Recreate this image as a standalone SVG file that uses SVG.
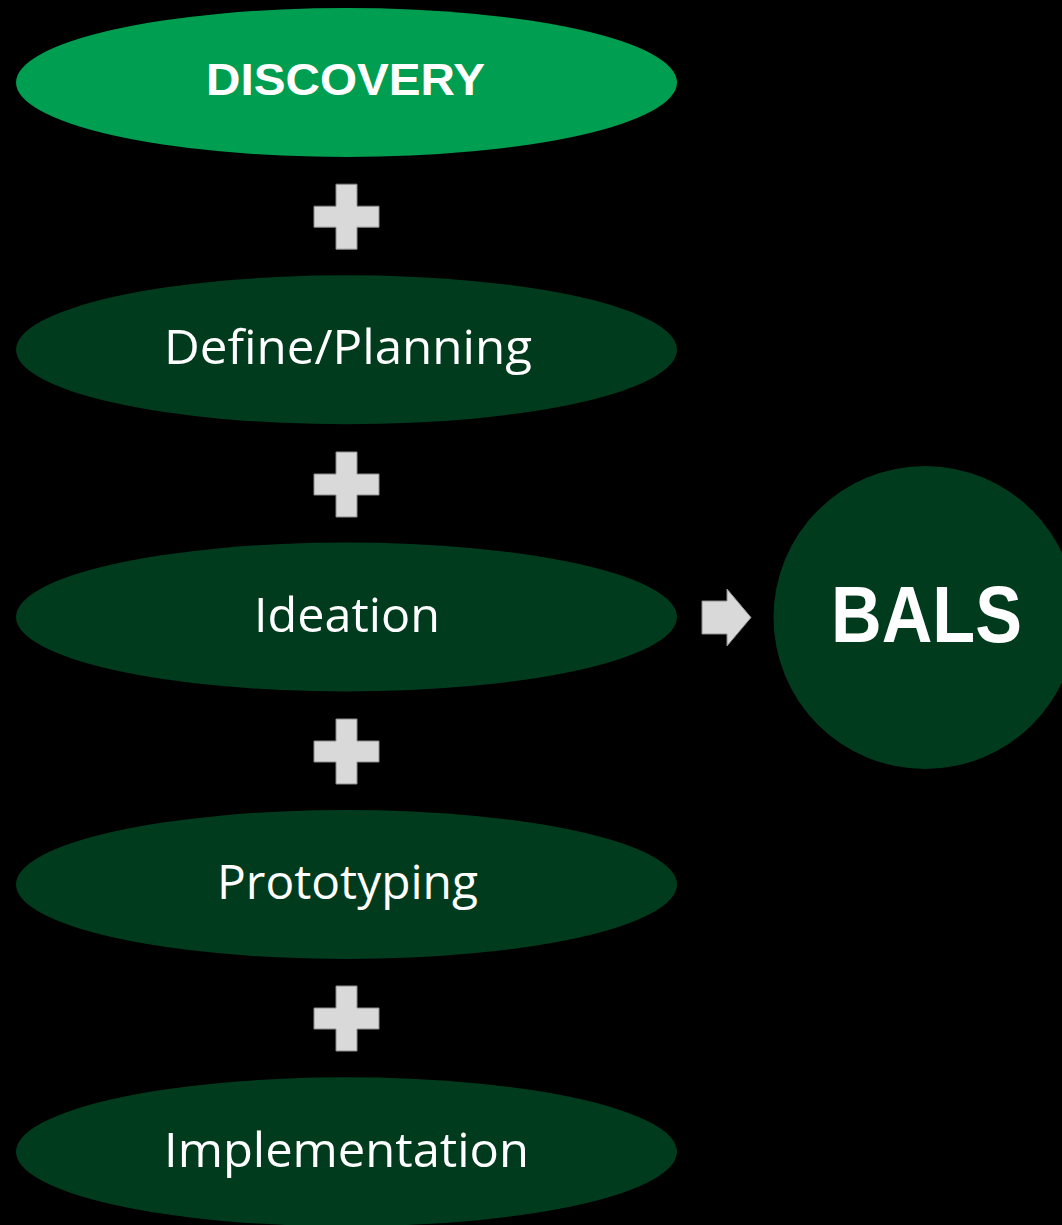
<svg xmlns="http://www.w3.org/2000/svg" width="1062" height="1225" viewBox="0 0 1062 1225">
<style>
.dark{fill:#003B1D}
.lbl{font-family:"Open Sans","Liberation Sans",sans-serif;font-size:48px;fill:#FFFFFF;text-anchor:middle}
.bold{font-family:"Liberation Sans",Arial,sans-serif;font-weight:bold;fill:#FFFFFF;text-anchor:middle}
.plus{fill:#D9D9D9;stroke:#8C8C8C;stroke-width:1}
</style>
<defs>
<path id="plus" d="M-10.5,-32.5 H10.5 V-10.5 H32.5 V10.5 H10.5 V32.5 H-10.5 V10.5 H-32.5 V-10.5 H-10.5 Z"/>
</defs>
<rect width="1062" height="1225" fill="#000000"/>
<g id="connectors">
<use href="#plus" class="plus" x="346.5" y="216.7"/>
<use href="#plus" class="plus" x="346.5" y="484.5"/>
<use href="#plus" class="plus" x="346.5" y="751.5"/>
<use href="#plus" class="plus" x="346.5" y="1018.5"/>
<path class="plus" d="M702,601 H727 V589 L751,617.5 L727,646 V634 H702 Z"/>
</g>
<g id="discovery">
<ellipse cx="346.5" cy="82.5" rx="330.5" ry="74.5" fill="#009E50"/>
<text class="bold" x="345.5" y="95" font-size="45" textLength="279" lengthAdjust="spacingAndGlyphs">DISCOVERY</text>
</g>
<g id="define">
<ellipse class="dark" cx="346.5" cy="349.8" rx="330.5" ry="74.5"/>
<text class="lbl" x="348" y="364" textLength="368" lengthAdjust="spacingAndGlyphs">Define/Planning</text>
</g>
<g id="ideation">
<ellipse class="dark" cx="346.5" cy="617" rx="330.5" ry="74.5"/>
<text class="lbl" x="347" y="631.5" textLength="186" lengthAdjust="spacingAndGlyphs">Ideation</text>
</g>
<g id="prototyping">
<ellipse class="dark" cx="346.5" cy="884.5" rx="330.5" ry="74.5"/>
<text class="lbl" x="347.5" y="899" textLength="261" lengthAdjust="spacingAndGlyphs">Prototyping</text>
</g>
<g id="implementation">
<ellipse class="dark" cx="346.5" cy="1151.8" rx="330.5" ry="74.5"/>
<text class="lbl" x="346.5" y="1166.7" textLength="365" lengthAdjust="spacingAndGlyphs">Implementation</text>
</g>
<g id="bals">
<circle class="dark" cx="925" cy="617.5" r="151.5"/>
<text class="bold" x="926.5" y="642" font-size="79" textLength="191" lengthAdjust="spacingAndGlyphs">BALS</text>
</g>
</svg>
